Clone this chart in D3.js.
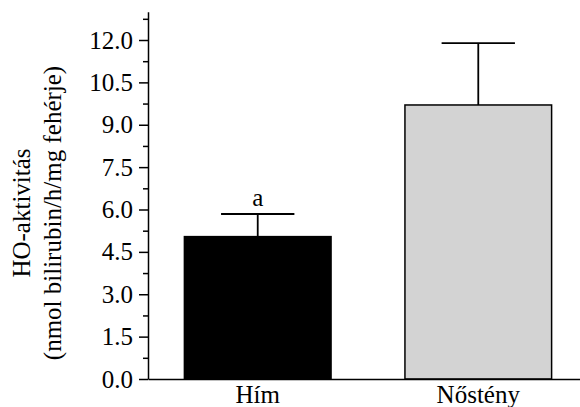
<!DOCTYPE html>
<html>
<head>
<meta charset="utf-8">
<script src="https://cdn.jsdelivr.net/npm/d3@7"></script>
<style>
  html, body { margin: 0; padding: 0; background: #fff; }
  svg { display: block; }
  text { font-family: "Liberation Serif", "Times New Roman", serif; fill: #000; }
</style>
</head>
<body>
<svg id="chart" width="580" height="407"></svg>
<script>
const categories = ["Hím", "Nőstény"];
const means = [5.04, 9.70];
const errors = [0.80, 2.19];
const sigLabels = ["a", ""];
const barColors = ["#000000", "#d3d3d3"];
const majorTicks = [0, 1.5, 3, 4.5, 6, 7.5, 9, 10.5, 12];
const minorTicks = [0.75, 2.25, 3.75, 5.25, 6.75, 8.25, 9.75, 11.25, 12.75];
const yLabelLines = ["HO-aktivitás", "(nmol bilirubin/h/mg fehérje)"];

const svg = d3.select("#chart");
const x0 = 148, y0 = 379;

const y = d3.scaleLinear().domain([0, 13]).range([y0, y0 - 13 * 28.25]);
const x = d3.scaleBand().domain(categories).range([x0, x0 + 440])
  .paddingInner(0.335).paddingOuter(0.165);

const fontSize = 25;
const ff = "'Liberation Serif', 'Times New Roman', serif";

// Bars
svg.selectAll("rect.bar").data(categories).enter().append("rect")
  .attr("class", "bar")
  .attr("x", d => x(d))
  .attr("width", x.bandwidth())
  .attr("y", (d, i) => y(means[i]))
  .attr("height", (d, i) => y(0) - y(means[i]))
  .attr("fill", (d, i) => barColors[i])
  .attr("stroke", "#000")
  .attr("stroke-width", 1.5);

// Error bars
const eb = svg.selectAll("g.err").data(categories).enter().append("g").attr("class", "err");
eb.append("line")
  .attr("x1", d => x(d) + x.bandwidth() / 2)
  .attr("x2", d => x(d) + x.bandwidth() / 2)
  .attr("y1", (d, i) => y(means[i]))
  .attr("y2", (d, i) => y(means[i] + errors[i]))
  .attr("stroke", "#000").attr("stroke-width", 1.8);
eb.append("line")
  .attr("x1", d => x(d) + x.bandwidth() / 4)
  .attr("x2", d => x(d) + x.bandwidth() * 3 / 4)
  .attr("y1", (d, i) => y(means[i] + errors[i]))
  .attr("y2", (d, i) => y(means[i] + errors[i]))
  .attr("stroke", "#000").attr("stroke-width", 1.8);
eb.append("text")
  .attr("x", d => x(d) + x.bandwidth() / 2)
  .attr("y", (d, i) => y(means[i] + errors[i]) - 8)
  .attr("text-anchor", "middle")
  .attr("font-family", ff)
  .attr("font-size", fontSize)
  .text((d, i) => sigLabels[i]);

// Y axis (minor ticks)
svg.append("g").attr("transform", `translate(${x0},0)`)
  .call(d3.axisLeft(y).tickValues(minorTicks).tickSize(5).tickSizeOuter(0).tickFormat(""))
  .call(g => g.select(".domain").remove())
  .call(g => g.selectAll("line").attr("stroke-width", 1.5));

// Y axis (major ticks)
svg.append("g").attr("transform", `translate(${x0},0)`)
  .call(d3.axisLeft(y).tickValues(majorTicks).tickSize(9).tickSizeOuter(0).tickPadding(6)
    .tickFormat(d3.format(".1f")))
  .attr("font-family", ff).attr("font-size", fontSize)
  .call(g => g.selectAll("text").attr("font-size", fontSize).attr("font-family", ff))
  .call(g => g.selectAll("line").attr("stroke-width", 1.5))
  .call(g => g.select(".domain").attr("stroke-width", 1.5));

// X axis
svg.append("g").attr("transform", `translate(0,${y0})`)
  .call(d3.axisBottom(x).tickSize(0).tickSizeOuter(0))
  .attr("font-family", ff).attr("font-size", fontSize)
  .call(g => g.select(".domain").attr("stroke-width", 1.5))
  .call(g => g.selectAll("text").attr("font-size", fontSize).attr("font-family", ff)
    .attr("dy", null).attr("y", 24));

// Y label
const yl = svg.append("text")
  .attr("transform", `translate(0,213) rotate(-90)`)
  .attr("text-anchor", "middle")
  .attr("font-family", ff)
  .attr("font-size", fontSize);
yl.selectAll("tspan").data(yLabelLines).enter().append("tspan")
  .attr("x", 0)
  .attr("y", (d, i) => i === 0 ? 30 : 60.5)
  .text(d => d);
</script>
</body>
</html>
